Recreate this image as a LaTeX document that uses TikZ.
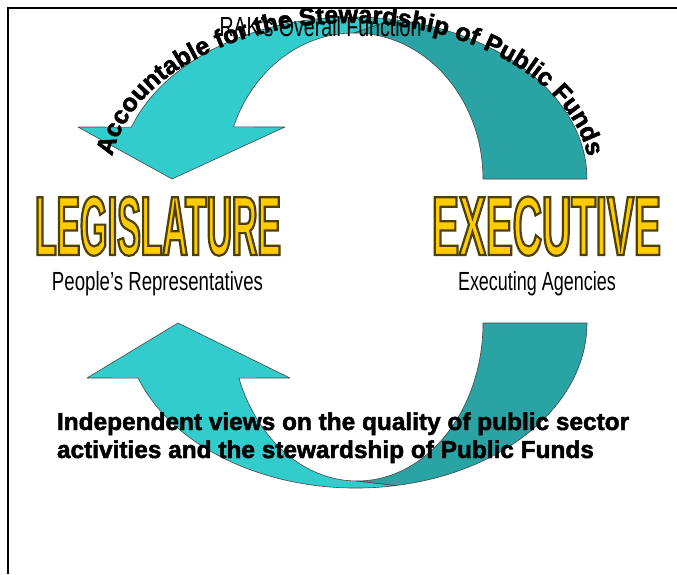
\documentclass[tikz,border=0pt]{standalone}
\usepackage{fontspec}
\usepackage{graphicx}
\setmainfont{Liberation Sans}
\newfontfamily\heavy{Liberation Sans Bold}[FakeBold=2]
\newfontfamily\legfont{Liberation Sans Bold}[FakeStretch=0.42]
\newfontfamily\exefont{Liberation Sans Bold}[FakeStretch=0.482]
\usetikzlibrary{decorations.text}
\definecolor{lteal}{RGB}{51,204,204}
\definecolor{dteal}{RGB}{41,163,163}
\definecolor{gold}{RGB}{255,204,0}
\definecolor{shapeedge}{RGB}{70,70,70}
% yellow text with a dark olive outline (fill + stroke render mode)
\newcommand\goldtext[2]{{\color{gold}\special{pdf:literal direct 2 Tr 2.2 w 0.302 0.251 0 RG}#1\fontsize{83.8}{84}\selectfont #2\special{pdf:literal direct 0 Tr}}}
\begin{document}
\begin{tikzpicture}[x=1pt,y=1pt,
  band/.style={draw=shapeedge, line width=0.6pt, line join=round},
  lightband/.style={band, fill=lteal},
  darkband/.style={band, fill=dteal},
  txt/.style={inner sep=0pt, outer sep=0pt, anchor=base},
  bodytxt/.style={inner sep=0pt, outer sep=0pt, anchor=base west, font=\heavy\fontsize{24.4}{24.4}\selectfont}
]
\useasboundingbox[fill=white] (0,0) rectangle (677,574);

% ---- LEGISLATURE / EXECUTIVE ----
\node[txt] (leg) at (158,319) {\goldtext{\legfont}{LEGISLATURE}};
\node[txt] (exe) at (546.5,319) {\goldtext{\exefont}{EXECUTIVE}};

\node[txt] (legsub) at (157.5,284) {\resizebox{211pt}{19pt}{People's Representatives}};
\node[txt] (exesub) at (537,284) {\resizebox{158pt}{19pt}{Executing Agencies}};

% ---- top arrow (Executive -> Legislature) ----
\path[lightband] (131.4,446.9)
  arc[start angle=161.3, end angle=80, x radius=234pt, y radius=162pt]
  -- (354,541)
  arc[start angle=90, end angle=159.1, x radius=129pt, y radius=146pt]
  -- (285,447) -- (172,395) -- (78,447) -- cycle;
\path[darkband] (393.6,554.5)
  arc[start angle=80, end angle=0, x radius=234pt, y radius=162pt]
  -- (483,395)
  arc[start angle=0, end angle=90, x radius=129pt, y radius=146pt]
  -- cycle;

% ---- bottom arrow (Executive -> Legislature) ----
\path[lightband] (138.2,195.9)
  arc[start angle=199.5, end angle=280, x radius=231pt, y radius=165pt]
  -- (357,93)
  arc[start angle=270, end angle=200.4, x radius=126pt, y radius=158pt]
  -- (290,196) -- (178,251) -- (87,196) -- cycle;
\path[darkband] (396.1,88.5)
  arc[start angle=280, end angle=360, x radius=231pt, y radius=165pt]
  -- (483,251)
  arc[start angle=0, end angle=-90, x radius=126pt, y radius=158pt]
  -- cycle;

% ---- curved label ----
\path[decorate, decoration={text along path, text align={fit to path},
  text={|\heavy\fontsize{25}{25}\selectfont|Accountable for the Stewardship of Public Funds}}]
  (112.34,417.57) arc[start angle=172, end angle=8, x radius=240pt, y radius=155pt];

% ---- title ----
\node[txt] (title) at (320.5,537) {\resizebox{202pt}{20pt}{RAK's Overall Function}};

% ---- bottom statement ----
\node[bodytxt] (ind1) at (57,144) {Independent views on the quality of public sector};
\node[bodytxt] (ind2) at (57,116) {activities and the stewardship of Public Funds};

% ---- frame ----
\draw[line width=2pt, line join=miter] (8,0) -- (8,566) -- (677,566);
\end{tikzpicture}
\end{document}
